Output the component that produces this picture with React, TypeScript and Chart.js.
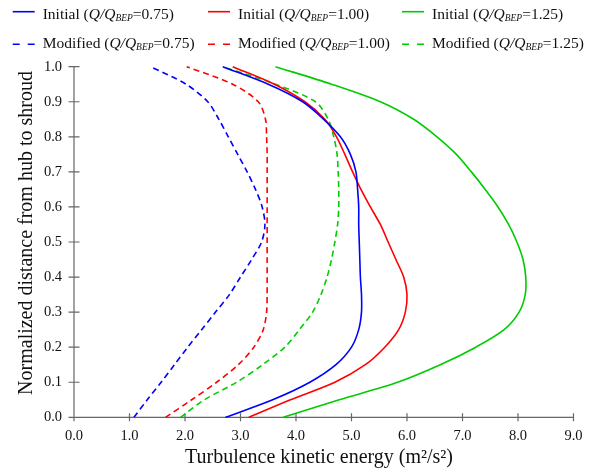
import React, { useEffect, useRef } from 'react';
import { Chart, registerables } from 'chart.js';

Chart.register(...registerables);

// Normalized distance from hub to shroud (shared sampling heights)
const HEIGHTS = [0, 0.05, 0.1, 0.15, 0.2, 0.25, 0.3, 0.35, 0.4, 0.45, 0.5, 0.55, 0.6, 0.65, 0.7, 0.75, 0.8, 0.85, 0.9, 0.95, 1.0];

// Turbulence kinetic energy (m2/s2) at each height
const INITIAL_075 = [2.73, 3.58, 4.25, 4.72, 5.0, 5.13, 5.18, 5.18, 5.16, 5.15, 5.14, 5.13, 5.13, 5.11, 5.08, 4.98, 4.8, 4.5, 4.12, 3.5, 2.68];
const INITIAL_100 = [3.15, 3.9, 4.7, 5.25, 5.6, 5.85, 5.97, 6.0, 5.94, 5.8, 5.66, 5.52, 5.34, 5.17, 5.02, 4.88, 4.73, 4.52, 4.16, 3.61, 2.86];
const INITIAL_125 = [3.77, 4.78, 5.83, 6.6, 7.24, 7.75, 8.02, 8.13, 8.14, 8.09, 7.98, 7.83, 7.64, 7.41, 7.16, 6.89, 6.54, 6.12, 5.52, 4.64, 3.63];
const MODIFIED_075 = [1.08, 1.32, 1.57, 1.81, 2.05, 2.3, 2.55, 2.8, 3.0, 3.2, 3.38, 3.44, 3.39, 3.27, 3.12, 2.95, 2.78, 2.61, 2.41, 2.02, 1.38];
const MODIFIED_100 = [1.65, 2.12, 2.57, 2.96, 3.24, 3.41, 3.47, 3.48, 3.48, 3.48, 3.48, 3.48, 3.48, 3.48, 3.48, 3.48, 3.47, 3.45, 3.32, 2.86, 2.03];
const MODIFIED_125 = [1.92, 2.35, 2.93, 3.4, 3.8, 4.06, 4.3, 4.45, 4.56, 4.64, 4.7, 4.75, 4.77, 4.77, 4.76, 4.74, 4.68, 4.58, 4.35, 3.63, 2.68];

const SERIES = [INITIAL_075, INITIAL_100, INITIAL_125, MODIFIED_075, MODIFIED_100, MODIFIED_125];
const LEGEND_PREFIX = ['Initial', 'Initial', 'Initial', 'Modified', 'Modified', 'Modified'];
const FLOW_RATIOS = ['0.75', '1.00', '1.25', '0.75', '1.00', '1.25'];
const COLORS = ['#0000ff', '#ff0000', '#00cc00', '#0000ff', '#ff0000', '#00cc00'];
const DASHED = [false, false, false, true, true, true];

const X_MIN = 0;
const X_MAX = 9;
const X_STEP = 1;
const Y_MIN = 0;
const Y_MAX = 1;
const Y_STEP = 0.1;

const X_TITLE = 'Turbulence kinetic energy (m\u00B2/s\u00B2)';
const Y_TITLE = 'Normalized distance from hub to shroud';

const FONT = "'Liberation Serif', 'Times New Roman', serif";
const AXIS_COLOR = '#666666';
const TEXT_COLOR = '#111111';

const axesPlugin = {
  id: 'crossAxes',
  beforeDatasetsDraw(chart: any) {
    const { ctx, chartArea: a, scales } = chart;
    const xs = scales.x;
    const ys = scales.y;
    ctx.save();
    ctx.strokeStyle = AXIS_COLOR;
    ctx.lineWidth = 1.2;
    ctx.beginPath();
    ctx.moveTo(a.left, a.bottom);
    ctx.lineTo(a.right, a.bottom);
    ctx.moveTo(a.left, a.top);
    ctx.lineTo(a.left, a.bottom);
    xs.ticks.forEach((t: any) => {
      const px = xs.getPixelForValue(t.value);
      ctx.moveTo(px, a.bottom - 4);
      ctx.lineTo(px, a.bottom + 4);
    });
    ys.ticks.forEach((t: any) => {
      const py = ys.getPixelForValue(t.value);
      ctx.moveTo(a.left - 5.5, py);
      ctx.lineTo(a.left + 5.5, py);
    });
    ctx.stroke();
    ctx.restore();
  },
};

const titlesPlugin = {
  id: 'axisTitles',
  afterDraw(chart: any) {
    const { ctx } = chart;
    ctx.save();
    ctx.fillStyle = TEXT_COLOR;
    ctx.font = `20px ${FONT}`;
    ctx.textAlign = 'center';
    ctx.textBaseline = 'middle';
    ctx.fillText(X_TITLE, 319, 458);
    ctx.translate(26.5, 233);
    ctx.rotate(-Math.PI / 2);
    ctx.fillText(Y_TITLE, 0, 0);
    ctx.restore();
  },
};

const LEGEND_COL_X = [12.7, 208, 402];
const LEGEND_ROW_LINE_Y = [11.7, 44.3];
const LEGEND_ROW_TEXT_Y = [15, 44];

const legendPlugin = {
  id: 'richLegend',
  afterDraw(chart: any) {
    const { ctx } = chart;
    const size = 15.5;
    const subSize = 9.5;
    chart.data.datasets.forEach((ds: any, i: number) => {
      const col = i % 3;
      const row = Math.floor(i / 3);
      const x0 = LEGEND_COL_X[col];
      const ly = LEGEND_ROW_LINE_Y[row];
      const ty = LEGEND_ROW_TEXT_Y[row];
      ctx.save();
      ctx.strokeStyle = ds.borderColor;
      ctx.lineWidth = 1.6;
      ctx.setLineDash(ds.borderDash && ds.borderDash.length ? [7, 8] : []);
      ctx.beginPath();
      ctx.moveTo(x0, ly);
      ctx.lineTo(x0 + 22, ly);
      ctx.stroke();
      ctx.setLineDash([]);
      ctx.fillStyle = TEXT_COLOR;
      ctx.textBaseline = 'middle';
      ctx.textAlign = 'left';
      let x = x0 + 30;
      const parts: [string, string, number][] = [
        [LEGEND_PREFIX[i] + ' (', `${size}px ${FONT}`, 0],
        ['Q/Q', `italic ${size}px ${FONT}`, 0],
        ['BEP', `italic ${subSize}px ${FONT}`, 3.5],
        ['=' + FLOW_RATIOS[i] + ')', `${size}px ${FONT}`, 0],
      ];
      parts.forEach(([txt, font, dy]) => {
        ctx.font = font;
        ctx.fillText(txt, x, ty + dy);
        x += ctx.measureText(txt).width;
      });
      ctx.restore();
    });
  },
};

export default function App() {
  const canvasRef = useRef<HTMLCanvasElement | null>(null);

  useEffect(() => {
    if (!canvasRef.current) return;
    const datasets = SERIES.map((vals, i) => ({
      label: `${LEGEND_PREFIX[i]} (Q/QBEP=${FLOW_RATIOS[i]})`,
      data: HEIGHTS.map((h, k) => ({ x: vals[k], y: h })),
      borderColor: COLORS[i],
      backgroundColor: COLORS[i],
      borderWidth: 1.6,
      borderDash: DASHED[i] ? [6, 4] : [],
      pointRadius: 0,
      tension: 0.3,
      fill: false,
      clip: 8,
    }));

    const chart = new Chart(canvasRef.current, {
      type: 'line',
      data: { datasets },
      options: {
        animation: false,
        responsive: false,
        devicePixelRatio: 1,
        layout: { padding: { top: 66.7, right: 23.5, bottom: 0, left: 0 } },
        plugins: {
          legend: { display: false },
          tooltip: { enabled: false },
        },
        scales: {
          x: {
            type: 'linear',
            min: X_MIN,
            max: X_MAX,
            grid: { display: false, drawTicks: false },
            border: { display: false },
            ticks: {
              stepSize: X_STEP,
              padding: 10,
              color: TEXT_COLOR,
              font: { family: FONT, size: 14.5 },
              callback: (v: any) => Number(v).toFixed(1),
            },
            afterFit: (scale: any) => {
              scale.height = 57.7;
            },
          },
          y: {
            type: 'linear',
            min: Y_MIN,
            max: Y_MAX,
            grid: { display: false, drawTicks: false },
            border: { display: false },
            ticks: {
              stepSize: Y_STEP,
              padding: 12,
              color: TEXT_COLOR,
              font: { family: FONT, size: 14.5 },
              callback: (v: any) => Number(v).toFixed(1),
            },
            afterFit: (scale: any) => {
              scale.width = 74;
            },
          },
        },
      },
      plugins: [axesPlugin, titlesPlugin, legendPlugin],
    });
    return () => chart.destroy();
  }, []);

  return (
    <div style={{ position: 'fixed', left: 0, top: 0, width: 597, height: 475, background: '#ffffff' }}>
      <canvas ref={canvasRef} width={597} height={475} style={{ width: 597, height: 475, display: 'block' }} />
    </div>
  );
}
